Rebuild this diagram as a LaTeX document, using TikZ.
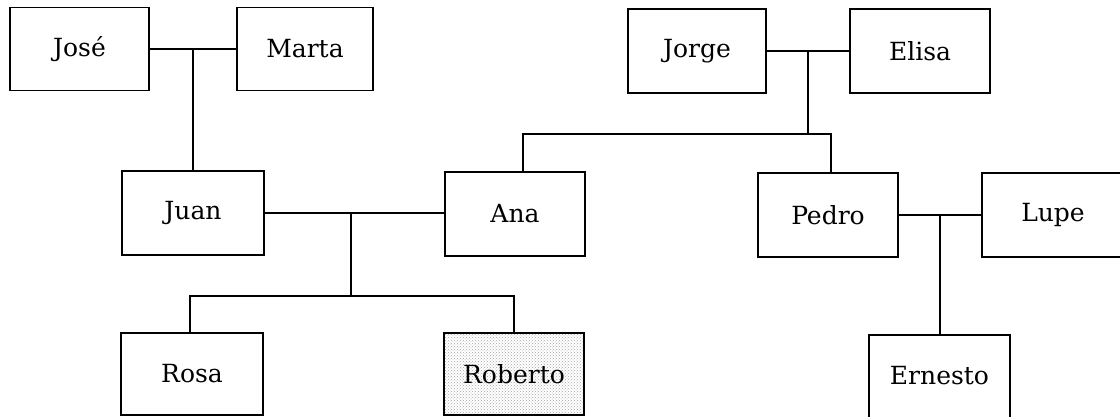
\documentclass[tikz,border=0pt]{standalone}
\usepackage{fontspec}
\setmainfont{DejaVu Serif}
\usetikzlibrary{patterns,calc}
\begin{document}
\begin{tikzpicture}[x=1pt,y=-1pt,
  person/.style={draw, line width=1.2pt, inner sep=0pt, minimum width=140pt, minimum height=84pt,
    font=\fontsize{25}{30}\selectfont},
  link/.style={line width=1.1pt}]
\useasboundingbox (0,0) rectangle (1120,417);
\node[person, minimum width=139pt, minimum height=83pt] (jose) at (79.5,49) {José};
\node[person, minimum width=136pt, minimum height=83pt] (marta) at (305,49) {Marta};
\node[person, minimum width=138pt] (jorge) at (697,51) {Jorge};
\node[person] (elisa) at (920,51) {Elisa};
\node[person, minimum width=142pt] (juan) at (193,213) {Juan};
\node[person] (ana) at (515,214) {Ana};
\node[person] (pedro) at (828,215) {Pedro};
\node[person, minimum width=142pt] (lupe) at (1053,215) {Lupe};
\node[person, minimum width=142pt, minimum height=82pt] (rosa) at (192,374) {Rosa};
\node[person, minimum height=82pt, pattern=crosshatch dots, pattern color=gray!70] (roberto) at (514,374) {};
\node[font=\fontsize{25}{30}\selectfont] (robertotext) at (roberto.center) {Roberto};
\node[person, minimum width=141pt, minimum height=92pt] (ernesto) at (939.5,381) {};
\node[font=\fontsize{25}{30}\selectfont] (ernestotext) at (939.5,376) {Ernesto};
% José + Marta -> Juan
\draw[link] (jose.east) -- (marta.west);
\coordinate (jm) at ($(jose.east)!0.5!(marta.west)$);
\draw[link] (jm) -- (jm |- juan.north);
% Jorge + Elisa -> Ana, Pedro
\draw[link] (jorge.east) -- (elisa.west);
\coordinate (je) at ($(jorge.east)!0.5!(elisa.west)$);
\coordinate (jeb) at ($(je)+(0,83)$);
\draw[link] (je) -- (jeb);
\draw[link] ([xshift=8pt]ana.north) |- (jeb) -| ([xshift=3pt]pedro.north);
% Juan + Ana -> Rosa, Roberto
\draw[link] (juan.east) -- (juan.east -| ana.west);
\coordinate (ja) at (351,213);
\coordinate (jab) at (351,296);
\draw[link] (ja) -- (jab);
\draw[link] ([xshift=-2pt]rosa.north) |- (jab) -| (roberto.north);
% Pedro + Lupe -> Ernesto
\draw[link] (pedro.east) -- (lupe.west);
\coordinate (pl) at ($(pedro.east)!0.5!(lupe.west)$);
\draw[link] (pl) -- (pl |- ernesto.north);
\end{tikzpicture}
\end{document}
